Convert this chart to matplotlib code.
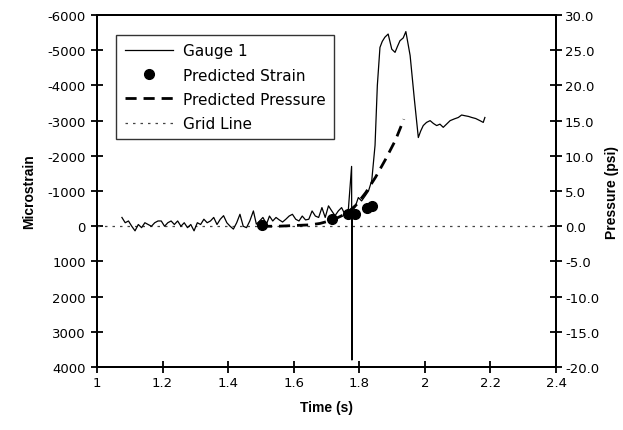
import matplotlib
matplotlib.use("Agg")
import matplotlib.pyplot as plt
from matplotlib.lines import Line2D

# gauge 1 trace (time in s, microstrain)
gauge_t = [1.076, 1.086, 1.096, 1.106, 1.116, 1.126, 1.136, 1.146, 1.156, 1.166,
           1.176, 1.186, 1.196, 1.206, 1.216, 1.226, 1.236, 1.246, 1.256, 1.266,
           1.276, 1.286, 1.296, 1.306, 1.316, 1.326, 1.336, 1.346, 1.356, 1.366,
           1.376, 1.386, 1.396, 1.406, 1.416, 1.426, 1.436, 1.446, 1.456, 1.466,
           1.477, 1.486, 1.496, 1.506, 1.517, 1.526, 1.536, 1.546, 1.556, 1.566,
           1.576, 1.586, 1.596, 1.606, 1.616, 1.626, 1.636, 1.646, 1.656, 1.666,
           1.676, 1.686, 1.696, 1.706, 1.716, 1.726, 1.736, 1.746, 1.756, 1.766,
           1.7765, 1.7775, 1.7785, 1.787, 1.797, 1.807, 1.817, 1.828, 1.838, 1.848,
           1.855, 1.863, 1.870, 1.878, 1.888, 1.899, 1.909, 1.916, 1.924, 1.934,
           1.942, 1.955, 1.968, 1.980, 1.987, 1.995, 2.005, 2.016, 2.026, 2.036,
           2.046, 2.056, 2.066, 2.077, 2.090, 2.102, 2.112, 2.122, 2.133, 2.143,
           2.155, 2.168, 2.178, 2.183]
gauge_v = [-250, -100, -150, 0, 130, -50, 40, -100, -50, 0,
           -100, -150, -150, 0, -100, -150, -50, -150, 0, -100,
           40, -50, 130, -100, -50, -200, -100, -150, -250, -50,
           -200, -300, -100, 0, 80, -100, -340, 0, 40, -150,
           -435, -60, -150, -250, -60, -290, -150, -250, -180, -120,
           -200, -290, -340, -200, -150, -290, -180, -200, -435, -290,
           -250, -530, -250, -580, -435, -300, -435, -530, -340, -400,
           -1700, 3800, -450, -540, -815, -720, -850, -1000, -1300, -2300,
           -4000, -5080, -5250, -5370, -5460, -5030, -4940, -5100, -5270, -5350,
           -5530, -4850, -3600, -2520, -2700, -2860, -2950, -3000, -2920, -2860,
           -2900, -2810, -2900, -3000, -3050, -3090, -3160, -3140, -3120, -3090,
           -3060, -3000, -2950, -3090]

# predicted strain points
strain_t = [1.503, 1.716, 1.767, 1.786, 1.823, 1.838]
strain_v = [-30, -220, -340, -360, -520, -580]

# predicted pressure (psi, right axis)
press_t = [1.50, 1.55, 1.60, 1.65, 1.68, 1.72, 1.76, 1.79, 1.82, 1.85, 1.88, 1.91, 1.936]
press_v = [0.0, 0.0, 0.1, 0.2, 0.4, 0.9, 1.8, 3.0, 4.8, 7.0, 9.5, 12.2, 15.2]

xticks = [1, 1.2, 1.4, 1.6, 1.8, 2, 2.2, 2.4]
xlabels = ["1", "1.2", "1.4", "1.6", "1.8", "2", "2.2", "2.4"]
yticks = [-6000, -5000, -4000, -3000, -2000, -1000, 0, 1000, 2000, 3000, 4000]
pticks = [30, 25, 20, 15, 10, 5, 0, -5, -10, -15, -20]

plt.rcParams['font.family'] = 'DejaVu Sans'
fig = plt.figure(figsize=(6.23, 4.31), dpi=100)
ax = fig.add_axes([0.1557, 0.146, 0.7368, 0.8168])
ax2 = ax.twinx()

# zero grid line
ax.axhline(0, color='#444444', lw=0.9, ls=(0, (2, 4)))
ax.plot(gauge_t, gauge_v, color='black', lw=0.9)
ax.plot(strain_t, strain_v, 'o', color='black', ms=7, ls='none')
ax2.plot(press_t, press_v, color='black', lw=2, ls=(0, (4, 2.5)))

ax.set_xlim(1, 2.4)
ax.set_ylim(4000, -6000)
ax2.set_ylim(-20, 30)
ax.set_xticks(xticks)
ax.set_xticklabels(xlabels)
ax.set_yticks(yticks)
ax.set_yticklabels([str(v) for v in yticks])
ax2.set_yticks(pticks)
ax2.set_yticklabels(["%.1f" % v for v in pticks])

for a in (ax, ax2):
    for s in a.spines.values():
        s.set_linewidth(1.4)
    a.tick_params(direction='inout', length=9, width=1.3, labelsize=9.5)
ax.tick_params(axis='x', pad=2)
ax2.tick_params(axis='y', pad=2)

ax.set_xlabel("Time (s)", fontsize=10, fontweight='bold', family='Liberation Sans', labelpad=8)
ax.set_ylabel("Microstrain", fontsize=10, fontweight='bold', family='Liberation Sans', labelpad=8)
ax2.set_ylabel("Pressure (psi)", fontsize=10, fontweight='bold', family='Liberation Sans', labelpad=4)

handles = [
    Line2D([], [], color='black', lw=0.9),
    Line2D([], [], marker='o', color='black', ls='none', ms=7),
    Line2D([], [], color='black', lw=2, ls=(0, (4, 2.5))),
    Line2D([], [], color='#444444', lw=0.9, ls=(0, (2, 4))),
]
labels = ["Gauge 1", "Predicted Strain", "Predicted Pressure", "Grid Line"]
leg = ax.legend(handles, labels, loc='upper left', bbox_to_anchor=(0.025, 0.965),
                fontsize=11, handlelength=3.2, frameon=True, fancybox=False,
                borderpad=0.55, labelspacing=0.6, handletextpad=0.6)
leg.get_frame().set_edgecolor('black')
leg.get_frame().set_linewidth(1.0)

fig.savefig("out.png", dpi=100)
